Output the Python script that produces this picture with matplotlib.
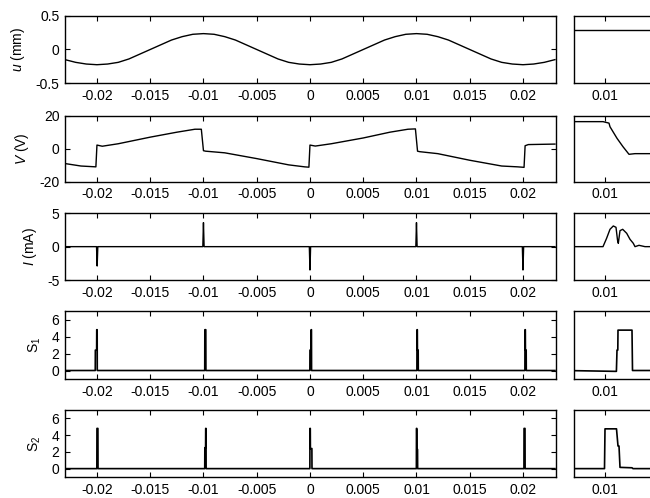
import numpy as np
import matplotlib
matplotlib.use("Agg")
import matplotlib.pyplot as plt

plt.rcParams['font.family'] = ['Liberation Sans', 'DejaVu Sans']
plt.rcParams['mathtext.fontset'] = 'custom'
plt.rcParams['mathtext.rm'] = 'Liberation Sans'
plt.rcParams['mathtext.it'] = 'Liberation Sans:italic'
plt.rcParams['axes.unicode_minus'] = False

# ---------------- data (left: full time window) ----------------
u_t = np.linspace(-0.023, 0.023, 47)
u_v = [-0.15, -0.19, -0.215, -0.225, -0.215, -0.19, -0.14, -0.07, 0.0, 0.07,
       0.14, 0.19, 0.225, 0.235, 0.225, 0.19, 0.14, 0.07, 0.0, -0.07,
       -0.14, -0.19, -0.215, -0.225, -0.215, -0.19, -0.14, -0.07, 0.0, 0.07,
       0.14, 0.19, 0.225, 0.235, 0.225, 0.19, 0.14, 0.07, 0.0, -0.07,
       -0.14, -0.19, -0.215, -0.225, -0.215, -0.19, -0.15]

V_t = [-0.023, -0.0215, -0.0201, -0.02, -0.0195, -0.018, -0.015, -0.0125, -0.0108,
       -0.0102, -0.0100, -0.0098, -0.008, -0.005, -0.002, -0.0005, -0.0001, 0.0,
       0.0005, 0.002, 0.005, 0.0075, 0.0092, 0.0099, 0.0101, 0.0103, 0.012, 0.015,
       0.018, 0.0195, 0.0201, 0.0202, 0.0205, 0.023]
V_v = [-9.0, -10.5, -11.0, 2.2, 1.5, 3.0, 7.0, 10.0, 11.8,
       11.8, -1.2, -1.5, -2.5, -6.0, -9.8, -11.0, -11.2, 2.2,
       1.6, 3.0, 6.5, 10.0, 11.8, 12.0, -1.5, -1.8, -3.0, -7.0,
       -10.5, -11.0, -11.3, 1.8, 2.5, 2.8]

I_t = [-0.023, -0.02004, -0.01998, -0.01992, -0.01006, -0.01, -0.00994,
       -0.00006, 0.0, 0.00006, 0.00994, 0.01, 0.01006, 0.01994, 0.02, 0.02006, 0.023]
I_v = [0, 0, -2.9, 0, 0, 3.6, 0,
       0, -3.5, 0, 0, 3.6, 0, 0, -3.5, 0, 0]

S1_t = [-0.023, -0.02016, -0.02015, -0.02003, -0.02002, -0.01998, -0.01997,
        -0.00988, -0.00987, -0.00978, -0.00977,
        -0.00001, 0.0, 0.0001, 0.00011, 0.00014, 0.00015,
        0.01004, 0.01005, 0.01008, 0.01009, 0.01016, 0.01017,
        0.02018, 0.02019, 0.02022, 0.02023, 0.0203, 0.02031, 0.023]
S1_v = [0, 0, 2.4, 2.4, 4.8, 4.8, 0,
        0, 4.8, 4.8, 0,
        0, 2.4, 2.4, 4.8, 4.8, 0,
        0, 4.8, 4.8, 2.4, 2.4, 0,
        0, 4.8, 4.8, 2.4, 2.4, 0, 0]

S2_t = [-0.023, -0.02001, -0.02, -0.01991, -0.0199,
        -0.00988, -0.00987, -0.0098, -0.00979, -0.00976, -0.00975,
        -0.00001, 0.0, 0.00003, 0.00004, 0.00018, 0.00019,
        0.00999, 0.01, 0.01003, 0.01004, 0.0101, 0.01011,
        0.02009, 0.0201, 0.02019, 0.0202, 0.023]
S2_v = [0, 0, 4.8, 4.8, 0,
        0, 2.5, 2.5, 4.8, 4.8, 0,
        0, 4.8, 4.8, 2.4, 2.4, 0,
        0, 4.8, 4.8, 2.3, 2.3, 0,
        0, 4.8, 4.8, 0, 0]

# ---------------- data (right: zoom around t = 0.01) ----------------
zu_t = [0.0098, 0.0106]
zu_v = [0.29, 0.29]

zV_t = [0.0098, 0.00999, 0.01002, 0.010025, 0.01006, 0.01009, 0.01012, 0.01015, 0.0106]
zV_v = [16.4, 16.4, 15.5, 13.3, 6.3, 1.2, -3.4, -3.0, -3.0]

zI_t = [0.0098, 0.00999, 0.010008, 0.010025, 0.0100415, 0.010055, 0.0100625,
        0.0100665, 0.010075, 0.0100885, 0.0101085, 0.010125, 0.0101415,
        0.01015, 0.01017, 0.0102, 0.0106]
zI_v = [0.0, 0.0, 1.25, 2.6, 3.1, 2.9, 1.0,
        0.5, 2.4, 2.6, 2.0, 1.1, 0.5,
        0.0, 0.2, 0.0, 0.0]

zS1_t = [0.0098, 0.01005, 0.010057, 0.01006, 0.010064, 0.010065, 0.010135, 0.0101375, 0.0106]
zS1_v = [0.0, -0.1, -0.1, 2.4, 2.4, 4.75, 4.75, 0.0, 0.0]

zS2_t = [0.0098, 0.0099975, 0.01, 0.0100575, 0.010065, 0.01007, 0.010075, 0.010135, 0.01014, 0.0106]
zS2_v = [0.0, 0.0, 4.75, 4.75, 2.7, 2.7, 0.15, 0.1, 0.0, 0.0]

xticks_left = [-0.02, -0.015, -0.01, -0.005, 0, 0.005, 0.01, 0.015, 0.02]
xticklabels_left = ['-0.02', '-0.015', '-0.01', '-0.005', '0', '0.005', '0.01', '0.015', '0.02']
xticks_right = [0.01]
xticklabels_right = ['0.01']

ylabels = ['$u$ (mm)', '$V$ (V)', '$I$ (mA)', 'S$_1$', 'S$_2$']
ylims = [(-0.5, 0.5), (-20, 20), (-5, 5), (-1, 7), (-1, 7)]
yticks = [[-0.5, 0, 0.5], [-20, 0, 20], [-5, 0, 5], [0, 2, 4, 6], [0, 2, 4, 6]]
yticklabels = [['-0.5', '0', '0.5'], ['-20', '0', '20'], ['-5', '0', '5'],
               ['0', '2', '4', '6'], ['0', '2', '4', '6']]

left_series = [(u_t, u_v), (V_t, V_v), (I_t, I_v), (S1_t, S1_v), (S2_t, S2_v)]
right_series = [(zu_t, zu_v), (zV_t, zV_v), (zI_t, zI_v), (zS1_t, zS1_v), (zS2_t, zS2_v)]

# ---------------- layout ----------------
W, H = 650, 498
fig = plt.figure(figsize=(W / 100, H / 100), dpi=100)
rows_px = [(15.7, 83.3), (115.7, 181.7), (213.3, 280.0), (311.0, 379.0), (410.0, 477.0)]
L0, L1 = 65, 556
R0, R1 = 574, 720
lw_data = [1.0, 1.0, 1.0, 1.2, 1.2]
FS = 10

for i, (top, bot) in enumerate(rows_px):
    b = 1 - bot / H
    h = (bot - top) / H
    axL = fig.add_axes([L0 / W, b, (L1 - L0) / W, h])
    axR = fig.add_axes([R0 / W, b, (R1 - R0) / W, h])

    t, v = left_series[i]
    axL.plot(t, v, color='black', lw=lw_data[i])
    axL.set_xlim(-0.023, 0.0231)
    axL.set_ylim(*ylims[i])
    axL.set_xticks(xticks_left)
    axL.set_xticklabels(xticklabels_left, fontsize=FS)
    axL.set_yticks(yticks[i])
    axL.set_yticklabels(yticklabels[i], fontsize=FS)
    axL.tick_params(direction='in', top=True, right=True, length=3.5, width=0.8, pad=4)
    axL.set_ylabel(ylabels[i], fontsize=FS, labelpad=6)

    t, v = right_series[i]
    axR.plot(t, v, color='black', lw=lw_data[i])
    axR.set_xlim(0.009845, 0.010575)
    axR.set_ylim(*ylims[i])
    axR.set_xticks(xticks_right)
    axR.set_xticklabels(xticklabels_right, fontsize=FS)
    axR.set_yticks([])
    axR.tick_params(direction='in', top=True, length=3.5, width=0.8, pad=4)

    for ax in (axL, axR):
        for s in ax.spines.values():
            s.set_linewidth(1.0)
        ax.set_facecolor('white')

fig.savefig('out.png', dpi=100)
